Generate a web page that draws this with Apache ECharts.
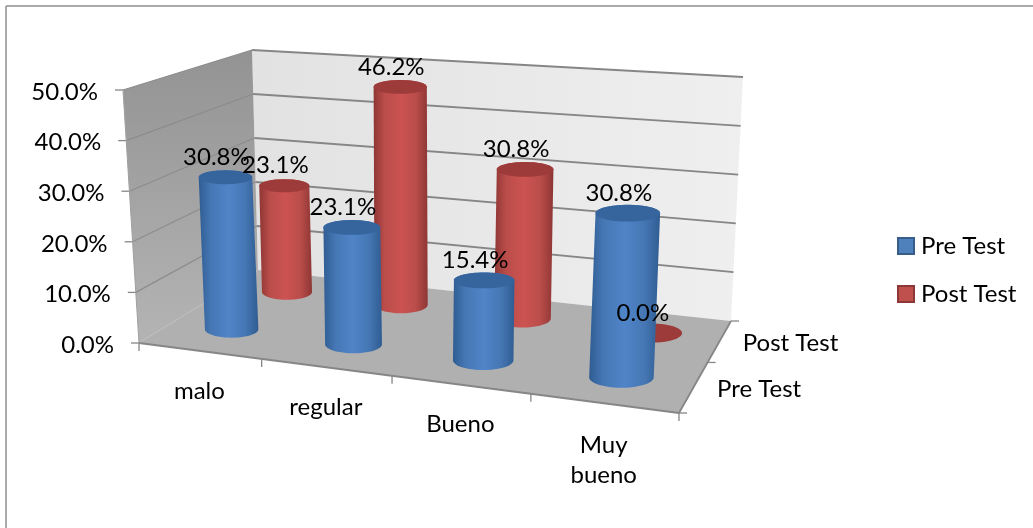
<!DOCTYPE html>
<html><head><meta charset="utf-8">
<style>html,body{margin:0;padding:0;background:#fff}#c{width:1033px;height:528px}</style>
<script src="https://cdn.jsdelivr.net/npm/echarts@6/dist/echarts.min.js"></script></head>
<body><div id="c"></div>
<script>
const categories = ['malo', 'regular', 'Bueno', 'Muy\nbueno'];
const preTest = [30.8, 23.1, 15.4, 30.8];
const postTest = [23.1, 46.2, 30.8, 0.0];
const valueTicks = [0, 10, 20, 30, 40, 50];
const depthNames = ['Pre Test', 'Post Test'];

const FONT = 'Lato';
const FS = 24;
// perspective box: screen corners of the 3D plot
const C = {
  fl0: [139, 343], fr0: [679, 413], bl0: [258, 270], br0: [731, 321],
  fl1: [123, 90], fr1: [694, 132], bl1: [252, 50], br1: [743, 77]
};
const KU = 1.134, KD = 0.82;
const lerp = (a, b, t) => [a[0] + (b[0] - a[0]) * t, a[1] + (b[1] - a[1]) * t];
const warp = (s, k) => s / (s + k * (1 - s));
// u: share of the x axis, d: share of depth, v: share of height
function project(u, d, v) {
  const tu = warp(u, KU), td = warp(d, KD);
  const f = lerp(lerp(C.fl0, C.fr0, tu), lerp(C.fl1, C.fr1, tu), v);
  const b = lerp(lerp(C.bl0, C.br0, tu), lerp(C.bl1, C.br1, tu), v);
  return lerp(f, b, td);
}
function shares(params, api, cat, val) {
  const cs = params.coordSys, p = api.coord([cat, val]);
  return [(p[0] - cs.x) / cs.width, (cs.y + cs.height - p[1]) / cs.height];
}
const line = (a, b, stroke, w) => ({ type: 'line', silent: true,
  shape: { x1: a[0], y1: a[1], x2: b[0], y2: b[1] }, style: { stroke, lineWidth: w === undefined ? 1.5 : w } });
const poly = (pts, fill) => ({ type: 'polygon', silent: true, shape: { points: pts }, style: { fill } });
const txt = (s, p, align) => ({ type: 'text', silent: true,
  style: { text: s, x: p[0], y: p[1], fill: '#000', fontFamily: FONT, fontSize: FS, lineHeight: 30,
    align: align || 'center', verticalAlign: 'middle' } });
const vGrad = (a, b) => new echarts.graphic.LinearGradient(0, 0, 0, 1, [{ offset: 0, color: a }, { offset: 1, color: b }]);
const hGrad = (a, b) => new echarts.graphic.LinearGradient(0, 0, 1, 0, [{ offset: 0, color: a }, { offset: 1, color: b }]);

function renderFrame(params, api) {
  const kids = [];
  const axis = '#868686';
  kids.push(poly([project(0,1,0), project(1,1,0), project(1,1,1), project(0,1,1)], hGrad('#E2E2E2', '#EFEFEF')));
  kids.push(poly([project(0,0,0), project(0,1,0), project(0,1,1), project(0,0,1)], vGrad('#939393', '#B4B4B4')));
  kids.push(poly([project(0,0,0), project(1,0,0), project(1,1,0), project(0,1,0)], '#B0B0B0'));
  valueTicks.forEach(t => {
    const v = shares(params, api, 0, t)[1];
    if (t > 0) {
      kids.push(line(project(0,1,v), project(1,1,v), axis, 1.8));
      kids.push(line(project(0,0,v), project(0,1,v), '#8C8C8C', 1.2));
    }
    const a = project(0,0,v);
    kids.push(line([a[0] - 8, a[1]], a, axis, 1.3));
    kids.push(txt(t.toFixed(1) + '%', [a[0] - 25, a[1] + 2], 'right'));
  });
  // front edges
  kids.push(line(project(0,0,0), project(1,0,0), axis, 2));
  kids.push(line(project(1,0,0), project(1,1,0), axis, 1.8));
  kids.push(line(project(0,0,0), project(0,0,1), '#A0A0A0', 1));
  // x ticks and labels
  categories.forEach((c, i) => {
    const a = project(i / categories.length, 0, 0);
    kids.push(line(a, [a[0], a[1] + 8], axis, 1.3));
  });
  const end = project(1, 0, 0);
  kids.push(line(end, [end[0], end[1] + 8], axis, 1.3));
  categories.forEach((c, i) => {
    const s = shares(params, api, i, 0);
    const a = project(s[0], 0, 0);
    const n = c.indexOf('\n') >= 0;
    kids.push(txt(c, [a[0], a[1] + (n ? 57 : 40)]));
  });
  // depth ticks and labels
  [0, 0.5, 1].forEach(d => {
    const a = project(1, d, 0);
    kids.push(line(a, [a[0] + 8, a[1]], axis, 1.3));
  });
  depthNames.forEach((n, i) => {
    const a = project(1, (i + 0.5) / depthNames.length, 0);
    kids.push(txt(n, [a[0] + 23, a[1] + 3], 'left'));
  });
  return { type: 'group', children: kids };
}

function cylinder(row, pal) {
  return function (params, api) {
    const cat = api.value(0), val = api.value(1);
    const s = shares(params, api, cat, val);
    const u = s[0], v = s[1], d = (row + 0.5) / 2, hw = 0.5 / categories.length;
    const bot = project(u, d, 0), top = project(u, d, v);
    const r = 0.226 * (project(u + hw, d, 0)[0] - project(u - hw, d, 0)[0]);
    const rt = r * 0.26, rb = r * 0.32;
    const kids = [];
    if (val > 0) {
      const pts = [];
      for (let i = 0; i <= 24; i++) {
        const th = Math.PI * i / 24;
        pts.push([bot[0] + r * Math.cos(th), bot[1] + rb * Math.sin(th)]);
      }
      for (let i = 0; i <= 24; i++) {
        const th = Math.PI * i / 24;
        pts.push([top[0] - r * Math.cos(th), top[1] - rt * Math.sin(th)]);
      }
      kids.push({ type: 'polygon', silent: true, shape: { points: pts }, style: {
        fill: new echarts.graphic.LinearGradient(0, 0, 1, 0, [
          { offset: 0, color: pal[0] }, { offset: 0.2, color: pal[1] },
          { offset: 0.5, color: pal[2] }, { offset: 0.78, color: pal[1] }, { offset: 1, color: pal[0] }
        ]) } });
    }
    kids.push({ type: 'ellipse', silent: true, shape: { cx: top[0], cy: top[1], rx: r, ry: val > 0 ? rt : rb },
      style: { fill: pal[3] } });
    return { type: 'group', children: kids };
  };
}

function renderLabel(params, api) {
  const cat = api.value(0), val = api.value(1), row = api.value(2);
  const s = shares(params, api, cat, val);
  const p = project(s[0], (row + 0.5) / 2, s[1]);
  return txt(val.toFixed(1) + '%', [p[0] - 9, p[1] - 20]);
}

const blue = ['#2F5C92', '#4677B4', '#4F84C8', '#36649C'];
const red = ['#8E3634', '#BA4D4A', '#CC5351', '#9C3B39'];
const labelData = preTest.map((v, i) => [i, v, 0]).concat(postTest.map((v, i) => [i, v, 1]));

const chart = echarts.init(document.getElementById('c'), null, { renderer: 'canvas' });
chart.setOption({
  animation: false,
  backgroundColor: '#fff',
  grid: { left: 139, top: 90, width: 540, height: 253 },
  xAxis: { type: 'category', data: categories, show: false },
  yAxis: { type: 'value', min: 0, max: 50, interval: 10, show: false },
  legend: {
    data: depthNames, orient: 'vertical', left: 897, top: 234, padding: 0, itemWidth: 16, itemHeight: 16, itemGap: 24,
    icon: 'rect', selectedMode: false,
    textStyle: { fontFamily: FONT, fontSize: FS, color: '#000', padding: [0, 0, 0, 2] }
  },
  graphic: [
    { type: 'line', shape: { x1: 6, y1: 6, x2: 1033, y2: 6 }, style: { stroke: '#8E8E8E', lineWidth: 1.5 } },
    { type: 'line', shape: { x1: 6, y1: 6, x2: 6, y2: 528 }, style: { stroke: '#8E8E8E', lineWidth: 1.5 } }
  ],
  series: [
    { name: 'frame', type: 'custom', z: 1, silent: true, clip: false, data: [[0, 0]], renderItem: renderFrame, encode: { x: 0, y: 1 } },
    { name: 'Pre Test', type: 'custom', z: 3, silent: true, clip: false, itemStyle: { color: '#4F81BD', borderColor: '#385D8A', borderWidth: 1 },
      data: preTest.map((v, i) => [i, v]), renderItem: cylinder(0, blue), encode: { x: 0, y: 1 } },
    { name: 'Post Test', type: 'custom', z: 2, silent: true, clip: false, itemStyle: { color: '#C0504D', borderColor: '#8C3836', borderWidth: 1 },
      data: postTest.map((v, i) => [i, v]), renderItem: cylinder(1, red), encode: { x: 0, y: 1 } },
    { name: 'labels', type: 'custom', z: 5, silent: true, clip: false, data: labelData, renderItem: renderLabel, encode: { x: 0, y: 1 } }
  ]
});
</script></body></html>
